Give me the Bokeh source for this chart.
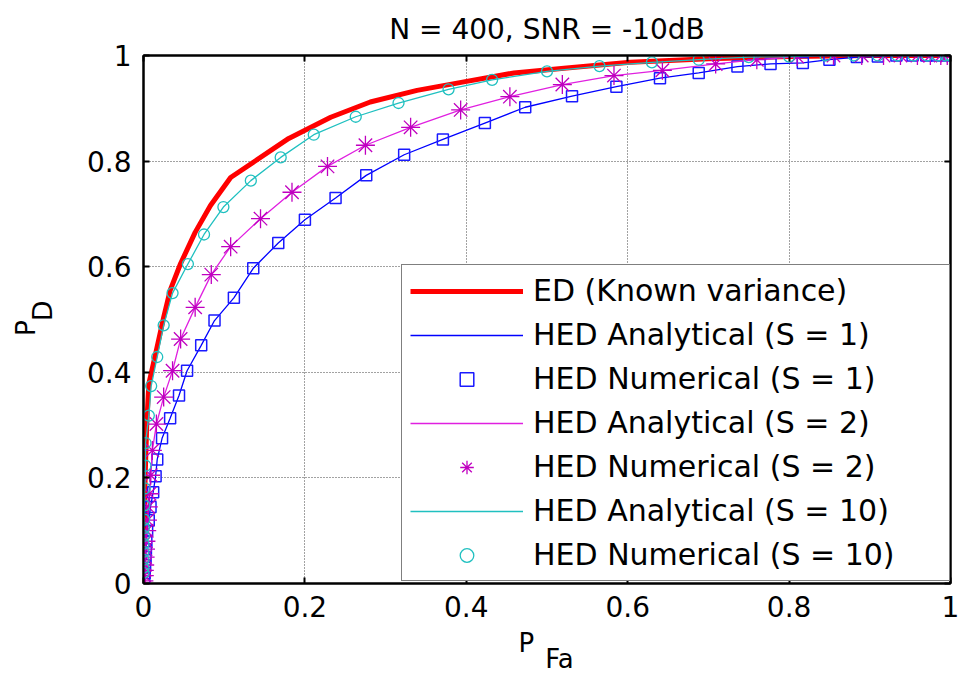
from bokeh.plotting import figure
from bokeh.models import (Legend, LegendItem, FixedTicker, NumeralTickFormatter,
                          LinearAxis, Range1d)
from bokeh.embed import file_html
from bokeh.resources import INLINE

# ---------------- data ----------------
NB = "\u00a0"
title_text = "N = 400, SNR = -10dB"
xlabel_text = "P" + NB * 5 + "\n" + NB * 3 + "Fa"
ylabel_text = "P" + NB * 2 + "\n" + NB * 3 + "D" + NB
ticks = [0, 0.2, 0.4, 0.6, 0.8, 1.0]

ed_x = [0.0, 0.001, 0.002, 0.004, 0.0066, 0.015, 0.025, 0.033, 0.046, 0.064, 0.083, 0.108,
        0.18, 0.232, 0.281, 0.339, 0.397, 0.459, 0.521, 0.603, 0.70, 0.80, 0.90, 1.0]
ed_y = [0.0, 0.10, 0.20, 0.30, 0.378, 0.435, 0.504, 0.555, 0.606, 0.665, 0.716, 0.769,
        0.843, 0.883, 0.912, 0.934, 0.950, 0.967, 0.976, 0.987, 0.994, 0.998, 1.0, 1.0]

s1_x = [0.001, 0.0015, 0.002, 0.0025, 0.003, 0.0035, 0.0045, 0.0065, 0.0087, 0.012, 0.015,
        0.017, 0.023, 0.033, 0.044, 0.054, 0.0715, 0.088, 0.112, 0.136, 0.167, 0.20, 0.238,
        0.276, 0.323, 0.371, 0.423, 0.473, 0.531, 0.586, 0.64, 0.688, 0.736, 0.777, 0.817,
        0.85, 0.884, 0.91, 0.933, 0.953, 0.97, 0.982, 0.996]
s1_y = [0.01, 0.02, 0.035, 0.05, 0.065, 0.08, 0.10, 0.12, 0.145, 0.173, 0.203,
        0.235, 0.275, 0.313, 0.356, 0.403, 0.451, 0.498, 0.541, 0.597, 0.645, 0.689, 0.73,
        0.773, 0.812, 0.841, 0.872, 0.902, 0.923, 0.941, 0.957, 0.967, 0.979, 0.984, 0.986,
        0.992, 0.997, 0.998, 1.0, 1.0, 1.0, 1.0, 1.0]

s2_x = [0.0005, 0.001, 0.001, 0.0015, 0.002, 0.0025, 0.003, 0.004, 0.005, 0.006, 0.0075,
        0.009, 0.011, 0.016, 0.025, 0.036, 0.046, 0.064, 0.084, 0.108, 0.145, 0.184, 0.228,
        0.275, 0.331, 0.393, 0.454, 0.519, 0.583, 0.643, 0.709, 0.76, 0.81, 0.855, 0.89,
        0.917, 0.938, 0.959, 0.975, 0.988, 0.996]
s2_y = [0.005, 0.015, 0.025, 0.035, 0.05, 0.065, 0.08, 0.10, 0.12, 0.145, 0.17,
        0.205, 0.252, 0.302, 0.353, 0.403, 0.463, 0.523, 0.585, 0.638, 0.691, 0.741, 0.79,
        0.83, 0.864, 0.897, 0.922, 0.945, 0.962, 0.972, 0.984, 0.992, 0.998, 1.0, 1.0,
        1.0, 1.0, 1.0, 1.0, 1.0, 1.0]

s10_x = [0.0, 0.0, 0.0, 0.0, 0.0, 0.0005, 0.0005, 0.001, 0.001, 0.0015, 0.0025, 0.0025,
         0.0066, 0.0095, 0.017, 0.025, 0.036, 0.055, 0.075, 0.099, 0.133, 0.17, 0.211, 0.263,
         0.316, 0.378, 0.432, 0.50, 0.565, 0.63, 0.688, 0.75, 0.80, 0.845, 0.88, 0.91, 0.934,
         0.954, 0.971, 0.984, 0.994, 1.0]
s10_y = [0.02, 0.03, 0.045, 0.06, 0.075, 0.09, 0.105, 0.121, 0.148, 0.18, 0.223, 0.266,
         0.318, 0.374, 0.429, 0.489, 0.55, 0.605, 0.661, 0.713, 0.763, 0.807, 0.85, 0.884,
         0.91, 0.936, 0.954, 0.97, 0.98, 0.987, 0.992, 0.997, 0.998, 1.0, 1.0, 1.0, 1.0,
         1.0, 1.0, 1.0, 1.0, 1.0]

labels = ["ED (Known variance)",
          "HED Analytical (S = 1)", "HED Numerical (S = 1)",
          "HED Analytical (S = 2)", "HED Numerical (S = 2)",
          "HED Analytical (S = 10)", "HED Numerical (S = 10)"]

FONT = "DejaVu Sans"

p = figure(width=960, height=677, x_range=Range1d(0, 1), y_range=Range1d(0, 1),
           output_backend="svg", toolbar_location=None,
           min_border_left=143, min_border_right=10, min_border_top=55, min_border_bottom=94)
p.background_fill_color = "white"
p.border_fill_color = "white"
p.outline_line_color = "black"
p.outline_line_width = 2

p.title.text = title_text
p.title.align = "center"
p.title.vertical_align = "top"
p.title.text_font = FONT
p.title.text_font_size = "28px"
p.title.text_font_style = "normal"
p.title.text_color = "black"
p.title.standoff = 16

for ax in (p.xaxis[0], p.yaxis[0]):
    ax.ticker = FixedTicker(ticks=ticks)
    ax.formatter = NumeralTickFormatter(format="0.[0]")
    ax.major_tick_in = 6
    ax.major_tick_out = 0
    ax.minor_tick_line_color = None
    ax.axis_line_width = 2
    ax.major_tick_line_width = 2
    ax.major_label_text_font = FONT
    ax.major_label_text_font_size = "28px"
    ax.major_label_text_color = "black"
    ax.axis_label_text_font = FONT
    ax.axis_label_text_font_style = "normal"
    ax.axis_label_text_color = "black"
    ax.axis_label_text_line_height = 0.55
p.xaxis.major_label_standoff = 12
p.yaxis.major_label_standoff = 12

p.xaxis.axis_label = xlabel_text
p.xaxis.axis_label_text_font_size = "26px"
p.xaxis.axis_label_standoff = 8
p.yaxis.axis_label = ylabel_text
p.yaxis.axis_label_text_font_size = "27px"
p.yaxis.axis_label_standoff = 26

# tick marks on the top and right edges (box axes, no labels)
for side in ("above", "right"):
    ax = LinearAxis(ticker=FixedTicker(ticks=ticks), major_tick_in=6, major_tick_out=0,
                    minor_tick_line_color=None, axis_line_width=2, major_tick_line_width=2,
                    major_label_text_font_size="0px", major_label_text_color=None,
                    major_label_standoff=0)
    p.add_layout(ax, side)

for g in (p.xgrid[0], p.ygrid[0]):
    g.ticker = FixedTicker(ticks=ticks)
    g.grid_line_color = "#444444"
    g.grid_line_dash = "1 2"
    g.grid_line_width = 1

r_ed = p.line(ed_x, ed_y, line_color="#FF0000", line_width=5)
r1a = p.line(s1_x, s1_y, line_color="#0000FF", line_width=1.3)
r1n = p.scatter(s1_x, s1_y, marker="square", size=11, line_color="#1a1aff",
                fill_color=None, line_width=1.5)
r2a = p.line(s2_x, s2_y, line_color="#E020E0", line_width=1.3)
r2n = p.scatter(s2_x, s2_y, marker="asterisk", size=19, line_color="#C000C0",
                line_width=1.3)
r10a = p.line(s10_x, s10_y, line_color="#20C0C0", line_width=1.3)
r10n = p.scatter(s10_x, s10_y, marker="circle", size=11, line_color="#20C0C0",
                 fill_color=None, line_width=1.3)

renderers = [r_ed, r1a, r1n, r2a, r2n, r10a, r10n]
legend = Legend(items=[LegendItem(label=l, renderers=[r]) for l, r in zip(labels, renderers)],
                location=(258, 2), orientation="vertical")
legend.label_text_font = FONT
legend.label_text_font_size = "30px"
legend.label_text_color = "black"
legend.glyph_width = 113
legend.glyph_height = 34
legend.label_height = 34
legend.label_standoff = 10
legend.spacing = 9
legend.padding = 8
legend.margin = 0
legend.label_width = 408
legend.border_line_color = "black"
legend.border_line_width = 1.5
legend.background_fill_color = "white"
legend.background_fill_alpha = 1.0
p.add_layout(legend, "center")

open("out.html", "w").write(file_html(p, INLINE))
